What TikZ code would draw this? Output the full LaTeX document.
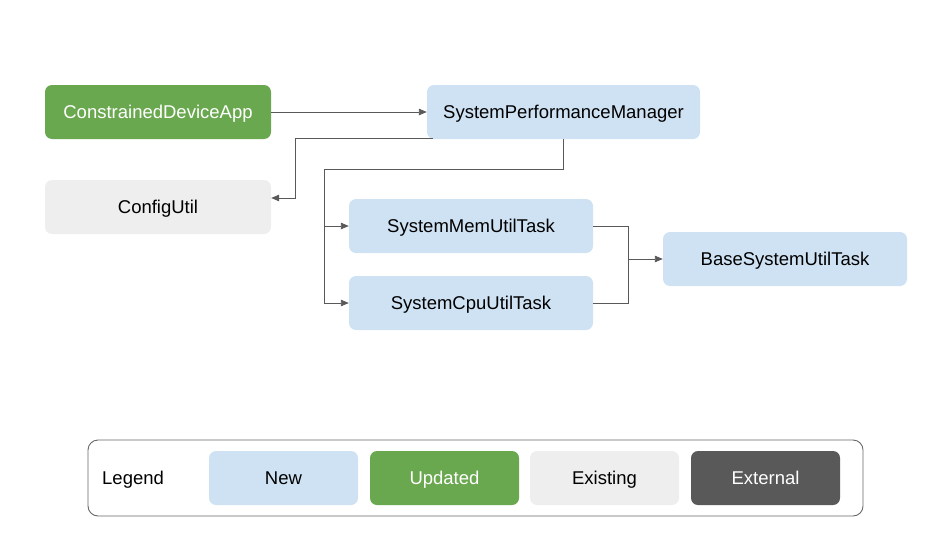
\documentclass[tikz,border=0pt]{standalone}
\usepackage{fontspec}
\setmainfont{Liberation Sans}
\usetikzlibrary{arrows.meta}
\definecolor{newblue}{HTML}{CFE2F3}
\definecolor{updgreen}{HTML}{6AA84F}
\definecolor{oldgrey}{HTML}{EEEEEE}
\definecolor{extgrey}{HTML}{595959}
\begin{document}
\begin{tikzpicture}[x=1pt,y=-1pt,
  box/.style={rounded corners=7pt, minimum height=54pt, inner sep=0pt,
              text height=13.4pt, text depth=0pt,
              font=\fontsize{18.5}{22}\selectfont, text=black},
  newbox/.style={box, fill=newblue},
  updbox/.style={box, fill=updgreen, text=white},
  oldbox/.style={box, fill=oldgrey},
  extbox/.style={box, fill=extgrey, text=white},
  keybox/.style={minimum width=149pt},
  conn/.style={draw=extgrey, line width=0.9pt},
  flow/.style={conn, -{Triangle[length=8pt,width=6.5pt]}},
  ]
  \useasboundingbox (0,0) rectangle (952,535);
  % ---- components ----------------------------------------------------------
  \node[updbox, minimum width=226pt] (app)  at (158,112)   {ConstrainedDeviceApp};
  \node[newbox, minimum width=273pt] (spm)  at (563.5,112) {SystemPerformanceManager};
  \node[oldbox, minimum width=226pt] (cfg)  at (158,207)   {ConfigUtil};
  \node[newbox, minimum width=244pt] (mem)  at (471,226)   {SystemMemUtilTask};
  \node[newbox, minimum width=244pt] (cpu)  at (471,303)   {SystemCpuUtilTask};
  \node[newbox, minimum width=244pt] (base) at (785,259)   {BaseSystemUtilTask};
  % ---- connectors ----------------------------------------------------------
  \coordinate (bus)  at (324,169);
  \coordinate (join) at (628,259);
  \draw[flow] (app) -- (spm);
  \draw[flow] ([xshift=6pt,yshift=1pt]spm.south west) -- ++(-137,0) |- ([yshift=9pt]cfg.east);
  \draw[flow] (spm.south) |- (bus) |- (mem.west);
  \draw[flow] (bus) |- (cpu.west);
  \draw[conn] (mem.east) -| (join);
  \draw[conn] (cpu.east) -| (join);
  \draw[flow] (join) -- (base.west);
  % ---- legend --------------------------------------------------------------
  \node[draw=black!60, line width=0.9pt, rounded corners=10pt, minimum width=775pt,
        minimum height=76pt, inner sep=0pt] (legend) at (475.5,478) {};
  \node[anchor=west, font=\fontsize{18.5}{22}\selectfont, inner sep=0pt,
        text height=13.4pt, text depth=0pt] (legtxt) at (102,478) {Legend};
  \node[newbox, keybox] (knew) at (283.5,478) {New};
  \node[updbox, keybox] (kupd) at (444.5,478) {Updated};
  \node[oldbox, keybox] (kold) at (604.5,478) {Existing};
  \node[extbox, keybox] (kext) at (765.5,478) {External};
\end{tikzpicture}
\end{document}
